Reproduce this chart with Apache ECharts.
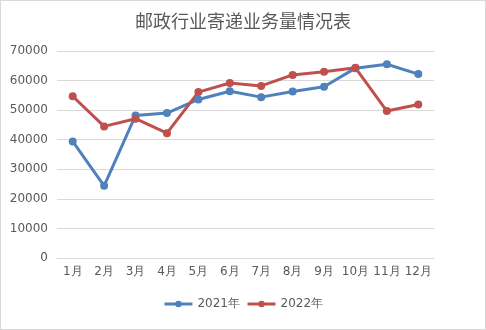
<!DOCTYPE html>
<html><head><meta charset="utf-8">
<script src="https://cdn.jsdelivr.net/npm/echarts@6/dist/echarts.min.js"></script>
<style>html,body{margin:0;padding:0;background:#fff}#c{width:484px;height:328px;border:1px solid #d9d9d9}</style>
</head><body><div id="c"></div>
<script>
var categories = ['1月','2月','3月','4月','5月','6月','7月','8月','9月','10月','11月','12月'];
var series2021 = [39400, 24400, 48200, 49000, 53600, 56400, 54400, 56300, 57900, 64200, 65500, 62200];
var series2022 = [54700, 44500, 47100, 42200, 56100, 59200, 58200, 61900, 63000, 64300, 49700, 51900];
var names = ['2021年','2022年'];
var chart = echarts.init(document.getElementById('c'));
chart.setOption({
  animation:false,
  title:{text:'邮政行业寄递业务量情况表',left:'center',top:6,textStyle:{fontFamily:'Noto Sans CJK SC',fontSize:18,fontWeight:'normal',color:'#595959'}},
  legend:{bottom:14,left:'center',itemWidth:28,itemHeight:8,itemGap:6,lineStyle:{width:3},textStyle:{color:'#595959',fontSize:12,fontFamily:'DejaVu Sans'},data:names},
  grid:{left:56,right:51,top:50,bottom:71},
  xAxis:{type:'category',data:categories,boundaryGap:true,axisLine:{lineStyle:{color:'#d9d9d9'}},axisTick:{show:false},axisLabel:{interval:0,color:'#595959',fontSize:12,fontFamily:'DejaVu Sans',margin:8}},
  yAxis:{type:'value',min:0,max:70000,interval:10000,axisLine:{show:false},axisTick:{show:false},splitLine:{lineStyle:{color:'#d9d9d9'}},axisLabel:{formatter:function(v){return String(v);},color:'#595959',fontSize:12,fontFamily:'DejaVu Sans',margin:9}},
  series:[
    {name:names[0],type:'line',data:series2021,symbol:'circle',symbolSize:8,itemStyle:{color:'#4F81BD'},lineStyle:{width:3,color:'#4F81BD'}},
    {name:names[1],type:'line',data:series2022,symbol:'circle',symbolSize:8,itemStyle:{color:'#C0504D'},lineStyle:{width:3,color:'#C0504D'}}
  ]
});
</script></body></html>
